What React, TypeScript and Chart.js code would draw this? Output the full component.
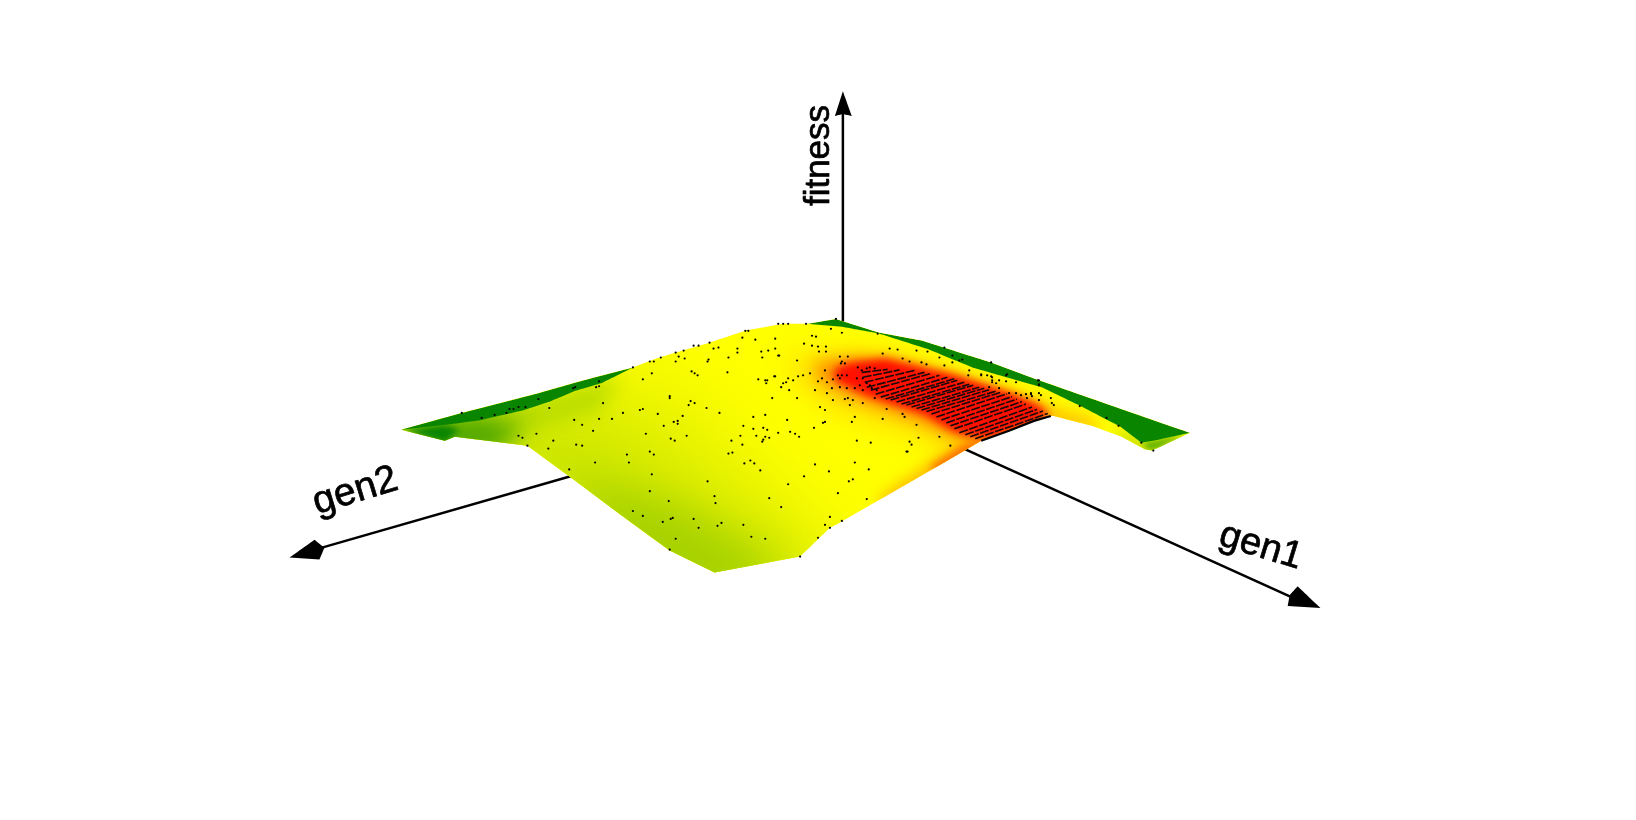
import React, { useEffect, useRef } from "react";
import { Chart, registerables } from "chart.js";

type P = [number, number];

// Outline of the fitness surface in the picture plane
const surfaceOutline: P[] = [[399,430],[443,441],[453,437],[526,446],[568,477],[620,516],[669,552],[714,574],[800,558],[830,529],[843,522],[950,460],[982,441],[1007,432],[1030,422],[1052,416],[1055,416],[1093,426],[1123,437],[1147,450],[1153,451],[1160,448],[1192,433],[1160,422],[1040,380],[992,362],[923,340],[880,332],[842,320],[836,318],[807,323],[783,323],[745,330],[709,342],[675,352],[653,359],[632,367],[598,376],[572,383],[537,393],[460,413],[399,430]];

// Colour regions of the surface, lowest fitness first
const lowBand1: P[] = [[399,430],[560,385],[660,370],[730,440],[800,510],[860,570],[714,620],[590,550],[460,470]];
const lowBand2: P[] = [[399,430],[520,405],[600,425],[680,485],[780,545],[820,595],[714,620],[600,540],[470,460]];
const lowBand3: P[] = [[560,480],[620,490],[680,510],[740,545],[790,575],[714,610],[620,560]];
const stripHalo: P[] = [[430,420],[540,400],[620,375],[600,410],[530,430],[450,440]];
const leftTipHalo: P[] = [[385,430],[470,415],[525,425],[495,455],[430,455]];
const leftTip: P[] = [[399,430],[443,425],[458,430],[443,443]];
const leftStrip: P[] = [[399,430],[460,413],[537,393],[572,383],[598,376],[632,367],[600,383],[573,391],[547,402],[523,410],[480,420],[443,425]];
const hotHalo: P[] = [[785,357],[850,352],[900,358],[960,375],[1020,394],[1060,412],[1010,440],[965,462],[930,440],[880,425],[830,408],[800,385]];
const hotBand: P[] = [[815,362],[855,356],[890,358],[930,370],[990,390],[1050,410],[1055,420],[985,448],[950,436],[920,422],[880,408],[845,395],[818,380]];
const peakBand: P[] = [[850,362],[885,358],[915,365],[950,373],[985,384],[1015,394],[1040,405],[1052,416],[982,441],[955,432],[925,415],[895,405],[865,395],[835,380],[835,368]];
const edgeWarm: P[] = [[880,500],[945,455],[975,440],[990,445],[940,480],[890,520]];
const edgeHot: P[] = [[930,468],[965,445],[985,440],[975,455],[940,475]];
const rimWarm: P[] = [[1052,410],[1095,420],[1100,432],[1050,425]];
const rimCool: P[] = [[1118,430],[1145,442],[1150,460],[1120,442]];
const rimTip: P[] = [[1143,443],[1192,433],[1160,450],[1150,452]];
const rightStrip: P[] = [[807,323],[836,318],[842,320],[880,332],[923,340],[992,362],[1040,380],[1160,422],[1192,433],[1160,440],[1143,443],[1122,427],[1080,405],[1043,387],[973,367],[927,348],[880,333],[842,326]];

// Regular design rows across the fitness peak: start and end of each row
const peakRows: [number, number, number, number][] = [
  [862,372,888,369],[863,377,900,369.5],[865,382,915,370],[867,387,925,372],[871,390,932,373],[876,394,940,375],[881,397,948,377],
  [886,399,955,378.5],[891,400,958,380],[897,402,965,382],[902,404,970,384],[907,405,974,385],[912,407,980,387],[917,408.5,985,388],
  [922,410,990,389.5],[927,411.5,997,391],[932,414,1002,392],[937,417,1008,393.6],[942,420,1013,396.5],[947,423,1018,399],
  [951,426,1023,401.5],[955,429,1027,404],[960,433,1033,407],[966,435,1038,409.5],[971,437,1044,411],[976,439,1049,413.5],
];
const peakEdge: P[] = [[982,441],[1010,431],[1035,421],[1052,416]];

// Observed genotypes
const samples: P[] = [
  [460,413],[480,418],[493,415],[505,413],[508,409],[512,409],[517,407],[524,407],[537,399],[548,408],[572,388],[574,387],[595,387],[598,386],[598,381],[602,403],[622,413],[611,419],[598,419],[573,420],[581,425],[592,431],[517,436],[521,438],[535,434],[526,446],[552,441],[547,449],[575,445],[581,446],[568,470],[594,463],[626,455],[628,463],[645,434],[649,452],[653,455],[651,475],[649,492],[632,512],[642,517],[662,523],[670,520],[672,519],[668,502],[675,540],[669,551],[693,520],[698,529],[717,527],[721,524],[743,526],[751,538],[765,540],[715,504],[714,497],[707,482],[769,499],[781,508],[788,485],[760,471],[754,464],[750,461],[744,464],[732,453],[728,454],[731,441],[742,445],[740,436],[743,426],[753,429],[756,436],[762,442],[763,440],[765,437],[769,438],[767,430],[763,428],[778,433],[787,420],[765,415],[753,417],[719,413],[706,408],[694,403],[690,401],[688,405],[682,416],[677,421],[673,422],[677,424],[663,426],[686,436],[670,439],[674,441],[657,414],[642,409],[639,410],[669,396],[669,398],[642,379],[651,373],[691,371],[694,373],[697,375],[727,372],[772,398],[758,379],[765,380],[766,383],[774,376],[781,387],[786,382],[789,390],[779,355],[761,351],[768,350],[775,348],[762,357],[737,348],[737,352],[728,357],[707,361],[708,359],[684,358],[678,356],[675,361],[653,361],[649,361],[660,357],[632,367],[675,352],[683,350],[693,345],[698,345],[709,342],[713,348],[718,347],[745,330],[748,330],[742,337],[755,339],[775,338],[778,323],[783,323],[788,323],
  [800,558],[818,539],[830,529],[825,526],[830,518],[842,522],[867,500],[838,494],[849,482],[853,480],[829,472],[804,477],[869,470],[855,463],[815,465],[908,452],[912,445],[910,442],[919,438],[940,437],[951,446],[871,443],[857,441],[917,425],[852,422],[823,423],[825,422],[814,428],[790,432],[795,434],[799,437],
  [806,323],[812,335],[816,336],[836,318],[831,328],[842,332],[878,333],[898,349],[890,348],[883,353],[917,350],[928,351],[945,347],[953,355],[963,359],[992,362],[1007,375],[1040,380],[1081,406],[1108,418],[1120,426],[1143,443],[1155,451],[778,355],[804,343],[812,345],[818,346],[826,346],[819,351],[826,351],[797,360],[840,356],[842,361],[841,363],[845,363],[848,356],[903,358],[910,361],[922,362],[927,364],[940,357],[945,365],[953,362],[960,360],[970,370],[969,375],[982,374],[992,376],[993,380],[997,383],[1007,381],[1017,382],[1039,380],[1040,385],[1033,396],[1017,393],[1027,394],[1032,393],[1042,395],[1052,398],[1053,403],[1055,405],[825,370],[822,378],[810,373],[803,375],[798,376],[793,380],[788,378],[783,383],[775,376],[767,380],[818,381],[827,382],[833,379],[838,375],[840,378],[842,375],[847,375],[832,388],[840,387],[847,388],[855,388],[863,390],[815,390],[827,393],[833,400],[845,399],[848,398],[853,400],[850,405],[863,403],[875,398],[887,409],[903,414],[905,417],[855,417],[883,419],[907,452],[797,398],[820,407],[825,410],
  [858,367],[862,370],[867,368],[870,367],[875,368],[857,378],[860,385],[867,383],[863,378],[870,385],[872,388],[877,390],[982,375],[988,375],[993,377],[990,387],[993,382],[1000,380],[1000,388],[1010,393],[1022,395],[1028,398],[1032,394],[1040,393],[1040,400],[1008,374],[1040,384],
];

// Axes
const gen1Axis: P[] = [[960,447],[1296,600]];
const gen2Axis: P[] = [[600,468],[316,550]];
const fitnessAxis: P[] = [[843,322],[843,108]];
const gen1Head: P[] = [[1323,610],[1300,588],[1292,597],[1290,608]];
const gen2Head: P[] = [[287,559],[312,541],[322,549],[317,561]];
const fitnessHead: P[] = [[843,88],[852,113],[843,111],[835,113]];

const axisLabels = ["gen1", "gen2", "fitness"];
const labelPlacement = [
  { x: 1263, y: 548, angle: 17, size: 38 },
  { x: 353, y: 492, angle: -17, size: 39 },
  { x: 819, y: 153, angle: -90, size: 35 },
];

const pts = (a: P[]) => a.map(([x, y]) => ({ x, y }));

const region = (name: string, data: P[], color: string, blur?: number) => ({
  label: name,
  data: pts(data),
  backgroundColor: color,
  borderWidth: 0,
  pointRadius: 0,
  fill: "shape",
  tension: 0.001,
  blur,
});

const line = (name: string, data: P[], width: number) => ({
  label: name,
  data: pts(data),
  borderColor: "#000",
  borderWidth: width,
  pointRadius: 0,
  fill: false,
  tension: 0,
});

// Must come before the filler plugin so that blur and clip wrap the fill
const surfacePlugin = {
  id: "surfaceRegions",
  beforeDatasetDraw(chart: any, args: any) {
    const ds: any = chart.data.datasets[args.index];
    if (ds.blur === undefined) return;
    const { ctx, scales } = chart;
    ctx.save();
    ctx.beginPath();
    surfaceOutline.forEach(([x, y], i) => {
      const px = scales.x.getPixelForValue(x);
      const py = scales.y.getPixelForValue(y);
      if (i === 0) ctx.moveTo(px, py);
      else ctx.lineTo(px, py);
    });
    ctx.closePath();
    ctx.clip();
    ctx.filter = `blur(${ds.blur}px)`;
  },
  afterDatasetDraw(chart: any, args: any) {
    const ds: any = chart.data.datasets[args.index];
    if (ds.blur === undefined) return;
    chart.ctx.restore();
  },
};

const labelPlugin = {
  id: "axisLabels",
  afterDraw(chart: any) {
    const { ctx, scales } = chart;
    axisLabels.forEach((text, i) => {
      const p = labelPlacement[i];
      ctx.save();
      ctx.translate(scales.x.getPixelForValue(p.x), scales.y.getPixelForValue(p.y));
      ctx.rotate((p.angle * Math.PI) / 180);
      ctx.font = `${p.size}px "Liberation Sans", Arial, sans-serif`;
      ctx.fillStyle = "#000";
      ctx.strokeStyle = "#000";
      ctx.lineWidth = 0.7;
      ctx.textAlign = "center";
      ctx.textBaseline = "middle";
      ctx.fillText(text, 0, 0);
      ctx.strokeText(text, 0, 0);
      ctx.restore();
    });
  },
};

Chart.register(surfacePlugin, ...registerables);

export default function App() {
  const ref = useRef<HTMLCanvasElement>(null);
  useEffect(() => {
    document.body.style.margin = "0";
    const rows: any[] = [];
    peakRows.forEach(([a, b, c, d]) => {
      rows.push({ x: a, y: b }, { x: c, y: d }, { x: null, y: null });
    });
    const painted: any[] = [
      line("gen1 axis", gen1Axis, 2.5),
      line("gen2 axis", gen2Axis, 2.5),
      line("fitness axis", fitnessAxis, 2.5),
      region("gen1 head", gen1Head, "#000"),
      region("gen2 head", gen2Head, "#000"),
      region("fitness head", fitnessHead, "#000"),
      region("surface", surfaceOutline, "#ffff00"),
      region("low 1", lowBand1, "#e6f200", 35),
      region("low 2", lowBand2, "#cde600", 30),
      region("low 3", lowBand3, "#a4d000", 22),
      region("strip halo", stripHalo, "#b8dc00", 10),
      region("left tip halo", leftTipHalo, "#4ca600", 12),
      region("left tip", leftTip, "#0a8500", 3),
      region("left strip", leftStrip, "#0a8500", 0.7),
      region("hot halo", hotHalo, "#ffdd00", 14),
      region("hot band", hotBand, "#ff9000", 8),
      region("peak", peakBand, "#ff1000", 4),
      region("edge warm", edgeWarm, "#ffb000", 8),
      region("edge hot", edgeHot, "#ff6a00", 4),
      region("rim warm", rimWarm, "#ffb000", 8),
      region("rim cool", rimCool, "#bcd800", 7),
      region("rim tip", rimTip, "#5fb000", 3),
      region("right strip", rightStrip, "#0a8500", 0.5),
      { label: "peak rows", data: rows, borderColor: "#1a0a0a", borderWidth: 1.6, borderDash: [9, 1.5], pointRadius: 0, fill: false, tension: 0, spanGaps: false },
      line("peak edge", peakEdge, 2.2),
      { label: "samples", data: pts(samples), showLine: false, pointRadius: 1.1, pointBorderWidth: 0, pointBackgroundColor: "#000", fill: false },
    ];
    const chart = new Chart(ref.current as HTMLCanvasElement, {
      type: "line",
      data: { datasets: painted.reverse() },
      options: {
        animation: false,
        responsive: false,
        devicePixelRatio: 1,
        events: [],
        layout: { padding: 0 },
        plugins: { legend: { display: false }, tooltip: { enabled: false }, title: { display: false } },
        scales: {
          x: { type: "linear", min: 0, max: 1636, display: false },
          y: { type: "linear", min: 0, max: 820, reverse: true, display: false },
        },
      },
      plugins: [labelPlugin],
    } as any);
    return () => chart.destroy();
  }, []);
  return (
    <div style={{ position: "absolute", left: 0, top: 0, width: 1636, height: 820, background: "#fff" }}>
      <canvas ref={ref} width={1636} height={820} style={{ display: "block" }} />
    </div>
  );
}
